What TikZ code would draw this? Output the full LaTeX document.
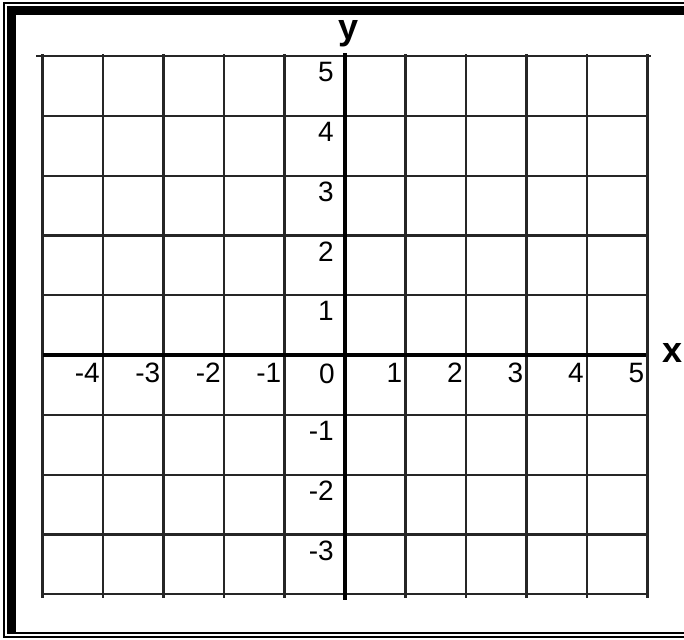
\documentclass[tikz,border=0pt]{standalone}
\usepackage{fontspec}
\setmainfont{Liberation Sans}
\usetikzlibrary{positioning}

\begin{document}
\begin{tikzpicture}[x=1pt, y=-1pt]
	\tikzset {gridline/.style={black!85, line width=2.2pt}, axisline/.style={black, line width=4pt}, ticklabel/.style={inner sep=0pt, font=\fontsize{28}{32}\selectfont}, axislabel/.style={inner sep=0pt, font=\fontsize{36}{40}\selectfont\bfseries} }
	
	\useasboundingbox (0,0) rectangle (684,639);
	
	% frame
	\draw[line width=2pt] (3.5,3) rectangle (700,637);
	\draw[line width=2pt] (8,7) rectangle (700,633);
	\fill (7,6) rectangle (700,15);
	\fill (7,6) rectangle (16,633);
	
	\begin{scope}[shift={(345,355)}, x=60.5pt, y=59.8pt]
		\foreach \i in {-5,...,5}
			\draw[gridline] (\i,5.03) -- (\i,-4.07);
		\foreach \j in {-4,...,4}
			\draw[gridline] (-5,\j) -- (5,\j);
		\draw[gridline] (-5.1,5) -- (5.05,5);
		
		\draw[axisline] (-5,0) -- (4.97,0);
		\draw[axisline] (0,5.05) -- (0,-4.1);
		
		\foreach \i in {-4,...,-1,1,2,...,5}
			\node[ticklabel, anchor=north east, xshift=-3pt, yshift=-8pt] (x\i) at (\i,0) {\i};
		\node[ticklabel, anchor=north east, xshift=-10pt, yshift=-9pt] (x0) at (0,0) {0};
		\foreach \j in {-3,...,-1,1,2,...,5}
			\node[ticklabel, anchor=north east, xshift=-11pt, yshift=-6pt] (y\j) at (0,\j) {\j};
		
		\node[axislabel, anchor=base] (ylab) at (0.05,5.28) {y};
		\node[axislabel, anchor=base] (xlab) at (5.42,-0.13) {x};
	\end{scope}
\end{tikzpicture}
\end{document}
